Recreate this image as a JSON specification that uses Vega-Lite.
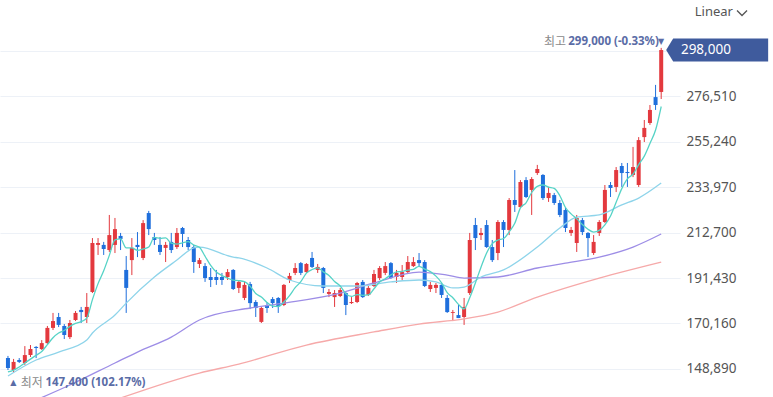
{
"$schema": "https://vega.github.io/schema/vega-lite/v6.json",
"width": 680, "height": 397,
"autosize": {"type": "none"},
"padding": {"left": 0, "top": 0, "right": 93, "bottom": 0},
"background": "white",
"config": {"view": {"stroke": null}, "font": "Noto Sans, Noto Sans CJK KR"},
"datasets": {
"candles": [
{"i":1,"o":154000,"h":155000,"l":148400,"c":149400},
{"i":2,"o":148400,"h":153600,"l":147400,"c":152200},
{"i":3,"o":153100,"h":154000,"l":151700,"c":152200},
{"i":4,"o":151700,"h":159600,"l":150800,"c":155400},
{"i":5,"o":155400,"h":160100,"l":154500,"c":158200},
{"i":6,"o":159200,"h":159600,"l":154000,"c":158700},
{"i":7,"o":158200,"h":162400,"l":157800,"c":161000},
{"i":8,"o":161000,"h":169000,"l":160600,"c":168100},
{"i":9,"o":168100,"h":175100,"l":167100,"c":171300},
{"i":10,"o":173200,"h":175100,"l":168500,"c":169500},
{"i":11,"o":169000,"h":169900,"l":162900,"c":164800},
{"i":12,"o":163800,"h":171800,"l":162900,"c":170400},
{"i":13,"o":171800,"h":176000,"l":171300,"c":175100},
{"i":14,"o":176500,"h":177900,"l":170400,"c":175500},
{"i":15,"o":173200,"h":184400,"l":170400,"c":177900},
{"i":16,"o":184900,"h":210100,"l":184400,"c":207800},
{"i":17,"o":206900,"h":210100,"l":202200,"c":207800},
{"i":18,"o":206900,"h":208300,"l":202200,"c":205000},
{"i":19,"o":204500,"h":220900,"l":203600,"c":211500},
{"i":20,"o":206900,"h":219500,"l":203100,"c":214300},
{"i":21,"o":211100,"h":212500,"l":204500,"c":209700},
{"i":22,"o":195200,"h":201700,"l":175100,"c":186800},
{"i":23,"o":199800,"h":210100,"l":192800,"c":205500},
{"i":24,"o":206900,"h":212900,"l":201200,"c":205900},
{"i":25,"o":200800,"h":218500,"l":199800,"c":217100},
{"i":26,"o":221800,"h":222800,"l":211500,"c":214300},
{"i":27,"o":210600,"h":212500,"l":206900,"c":209200},
{"i":28,"o":206900,"h":210600,"l":202200,"c":203600},
{"i":29,"o":205500,"h":208300,"l":198900,"c":206900},
{"i":30,"o":208300,"h":212500,"l":203100,"c":204500},
{"i":31,"o":205900,"h":214800,"l":205000,"c":212500},
{"i":32,"o":214800,"h":215300,"l":205900,"c":212000},
{"i":33,"o":209200,"h":210600,"l":204500,"c":205900},
{"i":34,"o":205900,"h":206900,"l":193800,"c":198900},
{"i":35,"o":198000,"h":200800,"l":196100,"c":199800},
{"i":36,"o":197000,"h":198400,"l":189600,"c":191400},
{"i":37,"o":191900,"h":196100,"l":187200,"c":190500},
{"i":38,"o":191900,"h":195200,"l":188200,"c":190500},
{"i":39,"o":191900,"h":193800,"l":188200,"c":190500},
{"i":40,"o":191900,"h":195600,"l":190500,"c":194200},
{"i":41,"o":195200,"h":195600,"l":185800,"c":186300},
{"i":42,"o":186800,"h":190500,"l":184400,"c":189600},
{"i":43,"o":182100,"h":189600,"l":181100,"c":188200},
{"i":44,"o":188600,"h":189600,"l":176900,"c":179700},
{"i":45,"o":180200,"h":181100,"l":173200,"c":177400},
{"i":46,"o":170900,"h":177900,"l":170400,"c":177400},
{"i":47,"o":178800,"h":180200,"l":175100,"c":177400},
{"i":48,"o":181600,"h":182500,"l":177400,"c":179700},
{"i":49,"o":182100,"h":182500,"l":175100,"c":178300},
{"i":50,"o":178800,"h":188600,"l":178300,"c":188200},
{"i":51,"o":190500,"h":193800,"l":189100,"c":192400},
{"i":52,"o":193800,"h":198400,"l":192800,"c":196100},
{"i":53,"o":198400,"h":198900,"l":192800,"c":193800},
{"i":54,"o":194200,"h":198400,"l":193800,"c":198000},
{"i":55,"o":200800,"h":203600,"l":196100,"c":196600},
{"i":56,"o":195200,"h":198000,"l":193800,"c":196600},
{"i":57,"o":196100,"h":196600,"l":184400,"c":186800},
{"i":58,"o":184000,"h":186300,"l":182500,"c":184900},
{"i":59,"o":182500,"h":185800,"l":177900,"c":184400},
{"i":60,"o":183000,"h":186800,"l":182500,"c":185800},
{"i":61,"o":184400,"h":184900,"l":174100,"c":178800},
{"i":62,"o":179700,"h":182500,"l":179300,"c":180200},
{"i":63,"o":180200,"h":189600,"l":179700,"c":189100},
{"i":64,"o":189600,"h":190500,"l":182100,"c":182500},
{"i":65,"o":183500,"h":187700,"l":183000,"c":186800},
{"i":66,"o":187700,"h":195200,"l":187200,"c":193300},
{"i":67,"o":191400,"h":197000,"l":190500,"c":196100},
{"i":68,"o":193800,"h":198900,"l":192800,"c":197000},
{"i":69,"o":198400,"h":198900,"l":191000,"c":191400},
{"i":70,"o":191900,"h":195200,"l":189100,"c":193800},
{"i":71,"o":191900,"h":197500,"l":190500,"c":194200},
{"i":72,"o":194200,"h":201700,"l":193300,"c":198900},
{"i":73,"o":197000,"h":201200,"l":196600,"c":198900},
{"i":74,"o":199800,"h":203100,"l":197000,"c":198400},
{"i":75,"o":198900,"h":199800,"l":187200,"c":187700},
{"i":76,"o":186300,"h":189600,"l":184900,"c":188200},
{"i":77,"o":186800,"h":189100,"l":184400,"c":188200},
{"i":78,"o":188200,"h":189100,"l":182100,"c":183500},
{"i":79,"o":182100,"h":183500,"l":175100,"c":175500},
{"i":80,"o":175100,"h":176500,"l":171300,"c":175500},
{"i":81,"o":174100,"h":178800,"l":172700,"c":172700},
{"i":82,"o":173200,"h":182100,"l":169500,"c":177900},
{"i":83,"o":184400,"h":212500,"l":183500,"c":209200},
{"i":84,"o":216200,"h":219500,"l":204500,"c":210100},
{"i":85,"o":211500,"h":214800,"l":209200,"c":212500},
{"i":86,"o":216200,"h":218500,"l":205500,"c":205900},
{"i":87,"o":205900,"h":209200,"l":198900,"c":199800},
{"i":88,"o":203100,"h":218500,"l":199800,"c":217600},
{"i":89,"o":217600,"h":218500,"l":205900,"c":213900},
{"i":90,"o":213900,"h":228800,"l":211500,"c":227900},
{"i":91,"o":227900,"h":241900,"l":222300,"c":225600},
{"i":92,"o":224600,"h":237200,"l":224200,"c":236300},
{"i":93,"o":237200,"h":238600,"l":228800,"c":229300},
{"i":94,"o":232600,"h":238600,"l":220900,"c":237700},
{"i":95,"o":240500,"h":244300,"l":239600,"c":242400},
{"i":96,"o":239600,"h":240000,"l":227900,"c":228800},
{"i":97,"o":228800,"h":234000,"l":227000,"c":231200},
{"i":98,"o":230200,"h":231200,"l":225600,"c":226500},
{"i":99,"o":226500,"h":227900,"l":219900,"c":220900},
{"i":100,"o":223200,"h":224600,"l":212900,"c":214800},
{"i":101,"o":212500,"h":215300,"l":211100,"c":213900},
{"i":102,"o":207800,"h":220900,"l":203600,"c":219500},
{"i":103,"o":218500,"h":219500,"l":211500,"c":212900},
{"i":104,"o":212500,"h":212900,"l":201200,"c":210100},
{"i":105,"o":203100,"h":211500,"l":202200,"c":208300},
{"i":106,"o":212500,"h":218500,"l":211100,"c":217600},
{"i":107,"o":217600,"h":234900,"l":217100,"c":232600},
{"i":108,"o":234900,"h":236300,"l":229300,"c":233500},
{"i":109,"o":234000,"h":243300,"l":231600,"c":241900},
{"i":110,"o":243800,"h":245200,"l":234000,"c":240500},
{"i":111,"o":241000,"h":245200,"l":234000,"c":240500},
{"i":112,"o":239600,"h":252700,"l":238600,"c":243300},
{"i":113,"o":234900,"h":257300,"l":234000,"c":255900},
{"i":114,"o":257300,"h":265300,"l":255000,"c":261600},
{"i":115,"o":263900,"h":272300,"l":263000,"c":270000},
{"i":116,"o":276000,"h":281700,"l":270000,"c":272300},
{"i":117,"o":278400,"h":299000,"l":275100,"c":298000}
],
"ma": [
{"s":"MA120","i":20,"v":134400},{"s":"MA120","i":35,"v":147000},{"s":"MA120","i":42,"v":151200},{"s":"MA120","i":54,"v":160100},{"s":"MA120","i":66,"v":166200},{"s":"MA120","i":74,"v":169900},{"s":"MA120","i":82,"v":172300},{"s":"MA120","i":88,"v":175500},{"s":"MA120","i":95,"v":182500},{"s":"MA120","i":106,"v":191400},{"s":"MA120","i":117,"v":198900},
{"s":"MA60","i":6,"v":134400},{"s":"MA60","i":12,"v":141400},{"s":"MA60","i":20,"v":151700},{"s":"MA60","i":24,"v":156800},{"s":"MA60","i":30,"v":163800},{"s":"MA60","i":35,"v":171800},{"s":"MA60","i":44,"v":177400},{"s":"MA60","i":50,"v":179700},{"s":"MA60","i":60,"v":184400},{"s":"MA60","i":66,"v":189100},{"s":"MA60","i":74,"v":194200},{"s":"MA60","i":79,"v":192800},{"s":"MA60","i":82,"v":191400},{"s":"MA60","i":88,"v":191900},{"s":"MA60","i":95,"v":196100},{"s":"MA60","i":100,"v":198400},{"s":"MA60","i":106,"v":201200},{"s":"MA60","i":112,"v":205900},{"s":"MA60","i":117,"v":212000},
{"s":"MA20","i":1,"v":145600},{"s":"MA20","i":6,"v":153100},{"s":"MA20","i":10,"v":156800},{"s":"MA20","i":15,"v":162400},{"s":"MA20","i":16,"v":165700},{"s":"MA20","i":20,"v":174100},{"s":"MA20","i":22,"v":179700},{"s":"MA20","i":27,"v":191900},{"s":"MA20","i":31,"v":199800},{"s":"MA20","i":34,"v":205500},{"s":"MA20","i":35,"v":205900},{"s":"MA20","i":41,"v":201200},{"s":"MA20","i":42,"v":200800},{"s":"MA20","i":47,"v":196100},{"s":"MA20","i":51,"v":190500},{"s":"MA20","i":57,"v":187700},{"s":"MA20","i":63,"v":187700},{"s":"MA20","i":69,"v":189600},{"s":"MA20","i":74,"v":190500},{"s":"MA20","i":77,"v":189600},{"s":"MA20","i":80,"v":186800},{"s":"MA20","i":82,"v":187200},{"s":"MA20","i":85,"v":191900},{"s":"MA20","i":89,"v":195200},{"s":"MA20","i":95,"v":205900},{"s":"MA20","i":99,"v":214800},{"s":"MA20","i":102,"v":219900},{"s":"MA20","i":106,"v":220900},{"s":"MA20","i":110,"v":225600},{"s":"MA20","i":113,"v":228800},{"s":"MA20","i":117,"v":235800},
{"s":"MA5","i":1,"v":147500},{"s":"MA5","i":2,"v":148400},{"s":"MA5","i":3,"v":149800},{"s":"MA5","i":4,"v":151700},{"s":"MA5","i":5,"v":153500},{"s":"MA5","i":6,"v":155300},{"s":"MA5","i":7,"v":157100},{"s":"MA5","i":8,"v":160300},{"s":"MA5","i":9,"v":163500},{"s":"MA5","i":10,"v":165700},{"s":"MA5","i":11,"v":166900},{"s":"MA5","i":12,"v":168800},{"s":"MA5","i":13,"v":170200},{"s":"MA5","i":14,"v":171000},{"s":"MA5","i":15,"v":172700},{"s":"MA5","i":16,"v":181300},{"s":"MA5","i":17,"v":188800},{"s":"MA5","i":18,"v":194800},{"s":"MA5","i":19,"v":202000},{"s":"MA5","i":20,"v":209300},{"s":"MA5","i":21,"v":209700},{"s":"MA5","i":22,"v":205500},{"s":"MA5","i":23,"v":205500},{"s":"MA5","i":24,"v":204400},{"s":"MA5","i":25,"v":205000},{"s":"MA5","i":26,"v":205900},{"s":"MA5","i":27,"v":210400},{"s":"MA5","i":28,"v":210000},{"s":"MA5","i":29,"v":210200},{"s":"MA5","i":30,"v":207700},{"s":"MA5","i":31,"v":207300},{"s":"MA5","i":32,"v":207900},{"s":"MA5","i":33,"v":208400},{"s":"MA5","i":34,"v":206800},{"s":"MA5","i":35,"v":205800},{"s":"MA5","i":36,"v":201600},{"s":"MA5","i":37,"v":197300},{"s":"MA5","i":38,"v":194200},{"s":"MA5","i":39,"v":192600},{"s":"MA5","i":40,"v":191400},{"s":"MA5","i":41,"v":190400},{"s":"MA5","i":42,"v":190200},{"s":"MA5","i":43,"v":189700},{"s":"MA5","i":44,"v":187600},{"s":"MA5","i":45,"v":184200},{"s":"MA5","i":46,"v":182500},{"s":"MA5","i":47,"v":180000},{"s":"MA5","i":48,"v":178300},{"s":"MA5","i":49,"v":178100},{"s":"MA5","i":50,"v":180200},{"s":"MA5","i":51,"v":183200},{"s":"MA5","i":52,"v":186900},{"s":"MA5","i":53,"v":189700},{"s":"MA5","i":54,"v":193700},{"s":"MA5","i":55,"v":195400},{"s":"MA5","i":56,"v":196200},{"s":"MA5","i":57,"v":194300},{"s":"MA5","i":58,"v":192600},{"s":"MA5","i":59,"v":189800},{"s":"MA5","i":60,"v":187700},{"s":"MA5","i":61,"v":184100},{"s":"MA5","i":62,"v":182800},{"s":"MA5","i":63,"v":183700},{"s":"MA5","i":64,"v":183300},{"s":"MA5","i":65,"v":183500},{"s":"MA5","i":66,"v":186400},{"s":"MA5","i":67,"v":189600},{"s":"MA5","i":68,"v":191100},{"s":"MA5","i":69,"v":192900},{"s":"MA5","i":70,"v":194300},{"s":"MA5","i":71,"v":194500},{"s":"MA5","i":72,"v":195100},{"s":"MA5","i":73,"v":195500},{"s":"MA5","i":74,"v":196900},{"s":"MA5","i":75,"v":195600},{"s":"MA5","i":76,"v":194400},{"s":"MA5","i":77,"v":192300},{"s":"MA5","i":78,"v":189200},{"s":"MA5","i":79,"v":184600},{"s":"MA5","i":80,"v":182200},{"s":"MA5","i":81,"v":179100},{"s":"MA5","i":82,"v":177000},{"s":"MA5","i":83,"v":182200},{"s":"MA5","i":84,"v":189100},{"s":"MA5","i":85,"v":196500},{"s":"MA5","i":86,"v":203100},{"s":"MA5","i":87,"v":207500},{"s":"MA5","i":88,"v":209200},{"s":"MA5","i":89,"v":209900},{"s":"MA5","i":90,"v":213000},{"s":"MA5","i":91,"v":217000},{"s":"MA5","i":92,"v":224200},{"s":"MA5","i":93,"v":226600},{"s":"MA5","i":94,"v":231400},{"s":"MA5","i":95,"v":234300},{"s":"MA5","i":96,"v":234900},{"s":"MA5","i":97,"v":233900},{"s":"MA5","i":98,"v":233300},{"s":"MA5","i":99,"v":229900},{"s":"MA5","i":100,"v":224400},{"s":"MA5","i":101,"v":221400},{"s":"MA5","i":102,"v":219100},{"s":"MA5","i":103,"v":216400},{"s":"MA5","i":104,"v":214200},{"s":"MA5","i":105,"v":212900},{"s":"MA5","i":106,"v":213700},{"s":"MA5","i":107,"v":216300},{"s":"MA5","i":108,"v":220400},{"s":"MA5","i":109,"v":226800},{"s":"MA5","i":110,"v":233200},{"s":"MA5","i":111,"v":237800},{"s":"MA5","i":112,"v":240000},{"s":"MA5","i":113,"v":244400},{"s":"MA5","i":114,"v":248400},{"s":"MA5","i":115,"v":254300},{"s":"MA5","i":116,"v":260600},{"s":"MA5","i":117,"v":271600}
]
},
"layer": [
{
"data": {"name": "candles"},
"mark": {"type": "rule", "strokeWidth": 1},
"encoding": {
"x": {"field": "i", "type": "quantitative", "scale": {"domain": [0.475, 119.45], "nice": false, "zero": false}, "axis": null},
"y": {"field": "l", "type": "quantitative", "scale": {"domain": [135800, 321390], "nice": false, "zero": false},
"axis": {"orient": "right", "values": [148890,170160,191430,212700,233970,255240,276510,297780], "labelExpr": "datum.value > 290000 ? '' : format(datum.value, ',')", "grid": true, "gridColor": "#edf1f7", "gridWidth": 1, "domain": false, "ticks": false, "labelPadding": 6, "labelFontSize": 13.5, "labelColor": "#555555", "labelFont": "Noto Sans", "title": null}},
"y2": {"field": "h"},
"color": {"condition": {"test": "datum.c >= datum.o", "value": "#e3393e"}, "value": "#1f6fdc"}
}
},
{
"data": {"name": "candles"},
"mark": {"type": "bar", "size": 4},
"encoding": {
"x": {"field": "i", "type": "quantitative", "scale": {"domain": [0.475, 119.45], "nice": false, "zero": false}, "axis": null},
"y": {"field": "o", "type": "quantitative", "scale": {"domain": [135800, 321390], "nice": false, "zero": false},
"axis": {"orient": "right", "values": [148890,170160,191430,212700,233970,255240,276510,297780], "labelExpr": "datum.value > 290000 ? '' : format(datum.value, ',')", "grid": true, "gridColor": "#edf1f7", "gridWidth": 1, "domain": false, "ticks": false, "labelPadding": 6, "labelFontSize": 13.5, "labelColor": "#555555", "labelFont": "Noto Sans", "title": null}},
"y2": {"field": "c"},
"color": {"condition": {"test": "datum.c >= datum.o", "value": "#e3393e"}, "value": "#1f6fdc"}
}
},
{
"data": {"name": "ma"},
"mark": {"type": "line", "strokeWidth": 1.3, "clip": true, "interpolate": "monotone"},
"encoding": {
"x": {"field": "i", "type": "quantitative", "scale": {"domain": [0.475, 119.45], "nice": false, "zero": false}, "axis": null},
"y": {"field": "v", "type": "quantitative", "scale": {"domain": [135800, 321390], "nice": false, "zero": false},
"axis": {"orient": "right", "values": [148890,170160,191430,212700,233970,255240,276510,297780], "labelExpr": "datum.value > 290000 ? '' : format(datum.value, ',')", "grid": true, "gridColor": "#edf1f7", "gridWidth": 1, "domain": false, "ticks": false, "labelPadding": 6, "labelFontSize": 13.5, "labelColor": "#555555", "labelFont": "Noto Sans", "title": null}},
"color": {"field": "s", "type": "nominal", "scale": {"domain": ["MA120","MA60","MA20","MA5"], "range": ["#f6a9a9","#9d8de6","#8ed4ea","#55d3c6"]}, "legend": null}
}
},
{
"data": {"values": [{"x": 3.27, "y": 142350, "t": "최저"}]},
"mark": {"type": "text", "fontSize": 12, "align": "left", "baseline": "middle", "color": "#8a8a8a"},
"encoding": {
"x": {"field": "x", "type": "quantitative", "scale": {"domain": [0.475, 119.45], "nice": false, "zero": false}, "axis": null},
"y": {"field": "y", "type": "quantitative", "scale": {"domain": [135800, 321390], "nice": false, "zero": false},
"axis": {"orient": "right", "values": [148890,170160,191430,212700,233970,255240,276510,297780], "labelExpr": "datum.value > 290000 ? '' : format(datum.value, ',')", "grid": true, "gridColor": "#edf1f7", "gridWidth": 1, "domain": false, "ticks": false, "labelPadding": 6, "labelFontSize": 13.5, "labelColor": "#555555", "labelFont": "Noto Sans", "title": null}},
"text": {"field": "t"}
}
},
{
"data": {"values": [{"x": 100.1, "y": 301750, "t": "최고"}]},
"mark": {"type": "text", "fontSize": 12, "align": "right", "baseline": "middle", "color": "#8a8a8a"},
"encoding": {
"x": {"field": "x", "type": "quantitative", "scale": {"domain": [0.475, 119.45], "nice": false, "zero": false}, "axis": null},
"y": {"field": "y", "type": "quantitative", "scale": {"domain": [135800, 321390], "nice": false, "zero": false},
"axis": {"orient": "right", "values": [148890,170160,191430,212700,233970,255240,276510,297780], "labelExpr": "datum.value > 290000 ? '' : format(datum.value, ',')", "grid": true, "gridColor": "#edf1f7", "gridWidth": 1, "domain": false, "ticks": false, "labelPadding": 6, "labelFontSize": 13.5, "labelColor": "#555555", "labelFont": "Noto Sans", "title": null}},
"text": {"field": "t"}
}
},
{
"data": {"values": [{"x": 100.5, "y": 301750, "t": "299,000 (-0.33%)"}, {"x": 7.65, "y": 142350, "t": "147,400 (102.17%)"}]},
"mark": {"type": "text", "fontSize": 11.5, "fontWeight": "bold", "align": "left", "baseline": "middle", "color": "#5a6ca6", "font": "Noto Sans"},
"encoding": {
"x": {"field": "x", "type": "quantitative", "scale": {"domain": [0.475, 119.45], "nice": false, "zero": false}, "axis": null},
"y": {"field": "y", "type": "quantitative", "scale": {"domain": [135800, 321390], "nice": false, "zero": false},
"axis": {"orient": "right", "values": [148890,170160,191430,212700,233970,255240,276510,297780], "labelExpr": "datum.value > 290000 ? '' : format(datum.value, ',')", "grid": true, "gridColor": "#edf1f7", "gridWidth": 1, "domain": false, "ticks": false, "labelPadding": 6, "labelFontSize": 13.5, "labelColor": "#555555", "labelFont": "Noto Sans", "title": null}},
"text": {"field": "t"}
}
},
{
"data": {"values": [{"x": 117.0, "y": 301950, "t": "▼"}, {"x": 1.96, "y": 142150, "t": "▲"}]},
"mark": {"type": "text", "fontSize": 8, "align": "center", "baseline": "middle", "color": "#5a6ca6", "font": "DejaVu Sans"},
"encoding": {
"x": {"field": "x", "type": "quantitative", "scale": {"domain": [0.475, 119.45], "nice": false, "zero": false}, "axis": null},
"y": {"field": "y", "type": "quantitative", "scale": {"domain": [135800, 321390], "nice": false, "zero": false},
"axis": {"orient": "right", "values": [148890,170160,191430,212700,233970,255240,276510,297780], "labelExpr": "datum.value > 290000 ? '' : format(datum.value, ',')", "grid": true, "gridColor": "#edf1f7", "gridWidth": 1, "domain": false, "ticks": false, "labelPadding": 6, "labelFontSize": 13.5, "labelColor": "#555555", "labelFont": "Noto Sans", "title": null}},
"text": {"field": "t"}
}
},
{
"data": {"values": [{"x": 117.88, "y": 298000}]},
"mark": {"type": "point", "shape": "M0,0L0.14,-0.23L2.04,-0.23L2.04,0.23L0.14,0.23Z", "size": 10000, "filled": true, "opacity": 1, "strokeWidth": 0, "color": "#3f5b9d"},
"encoding": {
"x": {"field": "x", "type": "quantitative", "scale": {"domain": [0.475, 119.45], "nice": false, "zero": false}, "axis": null},
"y": {"field": "y", "type": "quantitative", "scale": {"domain": [135800, 321390], "nice": false, "zero": false},
"axis": {"orient": "right", "values": [148890,170160,191430,212700,233970,255240,276510,297780], "labelExpr": "datum.value > 290000 ? '' : format(datum.value, ',')", "grid": true, "gridColor": "#edf1f7", "gridWidth": 1, "domain": false, "ticks": false, "labelPadding": 6, "labelFontSize": 13.5, "labelColor": "#555555", "labelFont": "Noto Sans", "title": null}}
}
},
{
"data": {"values": [{"x": 120.5, "y": 298000, "t": "298,000"}]},
"mark": {"type": "text", "fontSize": 13.5, "align": "left", "baseline": "middle", "color": "white", "font": "Noto Sans"},
"encoding": {
"x": {"field": "x", "type": "quantitative", "scale": {"domain": [0.475, 119.45], "nice": false, "zero": false}, "axis": null},
"y": {"field": "y", "type": "quantitative", "scale": {"domain": [135800, 321390], "nice": false, "zero": false},
"axis": {"orient": "right", "values": [148890,170160,191430,212700,233970,255240,276510,297780], "labelExpr": "datum.value > 290000 ? '' : format(datum.value, ',')", "grid": true, "gridColor": "#edf1f7", "gridWidth": 1, "domain": false, "ticks": false, "labelPadding": 6, "labelFontSize": 13.5, "labelColor": "#555555", "labelFont": "Noto Sans", "title": null}},
"text": {"field": "t"}
}
},
{
"data": {"values": [{"x": 122.95, "y": 315800, "t": "Linear"}]},
"mark": {"type": "text", "fontSize": 13, "align": "left", "baseline": "middle", "color": "#555555", "font": "Noto Sans"},
"encoding": {
"x": {"field": "x", "type": "quantitative", "scale": {"domain": [0.475, 119.45], "nice": false, "zero": false}, "axis": null},
"y": {"field": "y", "type": "quantitative", "scale": {"domain": [135800, 321390], "nice": false, "zero": false},
"axis": {"orient": "right", "values": [148890,170160,191430,212700,233970,255240,276510,297780], "labelExpr": "datum.value > 290000 ? '' : format(datum.value, ',')", "grid": true, "gridColor": "#edf1f7", "gridWidth": 1, "domain": false, "ticks": false, "labelPadding": 6, "labelFontSize": 13.5, "labelColor": "#555555", "labelFont": "Noto Sans", "title": null}},
"text": {"field": "t"}
}
},
{
"data": {"values": [{"x": 131.35, "y": 315300}]},
"mark": {"type": "point", "shape": "M-1,-0.5L0,0.5L1,-0.5", "size": 100, "filled": false, "opacity": 1, "strokeWidth": 1.3, "color": "#555555"},
"encoding": {
"x": {"field": "x", "type": "quantitative", "scale": {"domain": [0.475, 119.45], "nice": false, "zero": false}, "axis": null},
"y": {"field": "y", "type": "quantitative", "scale": {"domain": [135800, 321390], "nice": false, "zero": false},
"axis": {"orient": "right", "values": [148890,170160,191430,212700,233970,255240,276510,297780], "labelExpr": "datum.value > 290000 ? '' : format(datum.value, ',')", "grid": true, "gridColor": "#edf1f7", "gridWidth": 1, "domain": false, "ticks": false, "labelPadding": 6, "labelFontSize": 13.5, "labelColor": "#555555", "labelFont": "Noto Sans", "title": null}}
}
}
]
}
